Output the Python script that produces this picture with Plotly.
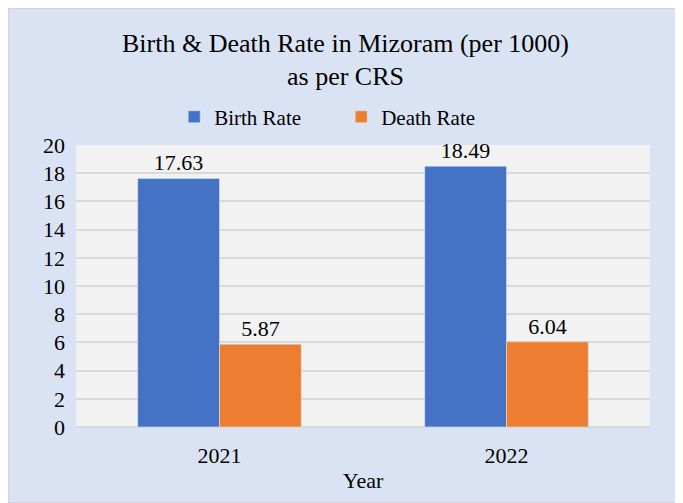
import plotly.graph_objects as go

years = ["2021", "2022"]
birth_rate = [17.63, 18.49]
death_rate = [5.87, 6.04]

FONT = "Liberation Serif, Times New Roman, serif"

fig = go.Figure()
fig.add_trace(go.Bar(
    x=years, y=birth_rate, name="Birth Rate",
    marker_color="#4472C4",
    text=[f"{v:.2f}" for v in birth_rate], textposition="outside",
    textfont=dict(size=22, color="#000000", family=FONT),
    cliponaxis=False,
))
fig.add_trace(go.Bar(
    x=years, y=death_rate, name="Death Rate",
    marker_color="#ED7D31",
    text=[f"{v:.2f}" for v in death_rate], textposition="outside",
    textfont=dict(size=22, color="#000000", family=FONT),
    cliponaxis=False,
))

# page body has an 8px margin, so the figure is a bit smaller than the window
fig.update_layout(
    width=675, height=495,
    margin=dict(l=68, r=33, t=137, b=76),
    paper_bgcolor="#DAE3F3",
    plot_bgcolor="#F2F2F2",
    font=dict(family=FONT, size=22, color="#000000"),
    title=dict(
        text="Birth & Death Rate in Mizoram (per 1000)<br>as per CRS",
        x=0.5, xanchor="center", y=0.912, yanchor="top",
        font=dict(size=26, family=FONT, color="#000000"),
    ),
    bargap=0.43, bargroupgap=0,
    legend=dict(
        orientation="h", x=0.462, xanchor="center", y=1.099, yanchor="middle",
        font=dict(size=21, family=FONT), bgcolor="rgba(0,0,0,0)",
        entrywidth=122, entrywidthmode="pixels", itemwidth=30,
    ),
    showlegend=True,
    shapes=[dict(
        type="rect", xref="paper", yref="paper",
        x0=-68 / 574, x1=607 / 574, y0=-76 / 282, y1=419 / 282,
        line=dict(color="#D0D0D0", width=1.5), fillcolor="rgba(0,0,0,0)",
        layer="below",
    )],
)
fig.update_yaxes(
    range=[0, 20], dtick=2, showgrid=True, gridcolor="#D9D9D9", gridwidth=1.5,
    zeroline=True, zerolinecolor="#D9D9D9", zerolinewidth=1.5,
    tickfont=dict(size=22, family=FONT), ticks="", showline=False,
    ticklabelstandoff=10,
)
fig.update_xaxes(
    title=dict(text="Year", font=dict(size=22, family=FONT), standoff=5),
    tickfont=dict(size=22, family=FONT), ticks="", showline=False,
    ticklabelstandoff=13,
)

fig.write_html("out.html")
